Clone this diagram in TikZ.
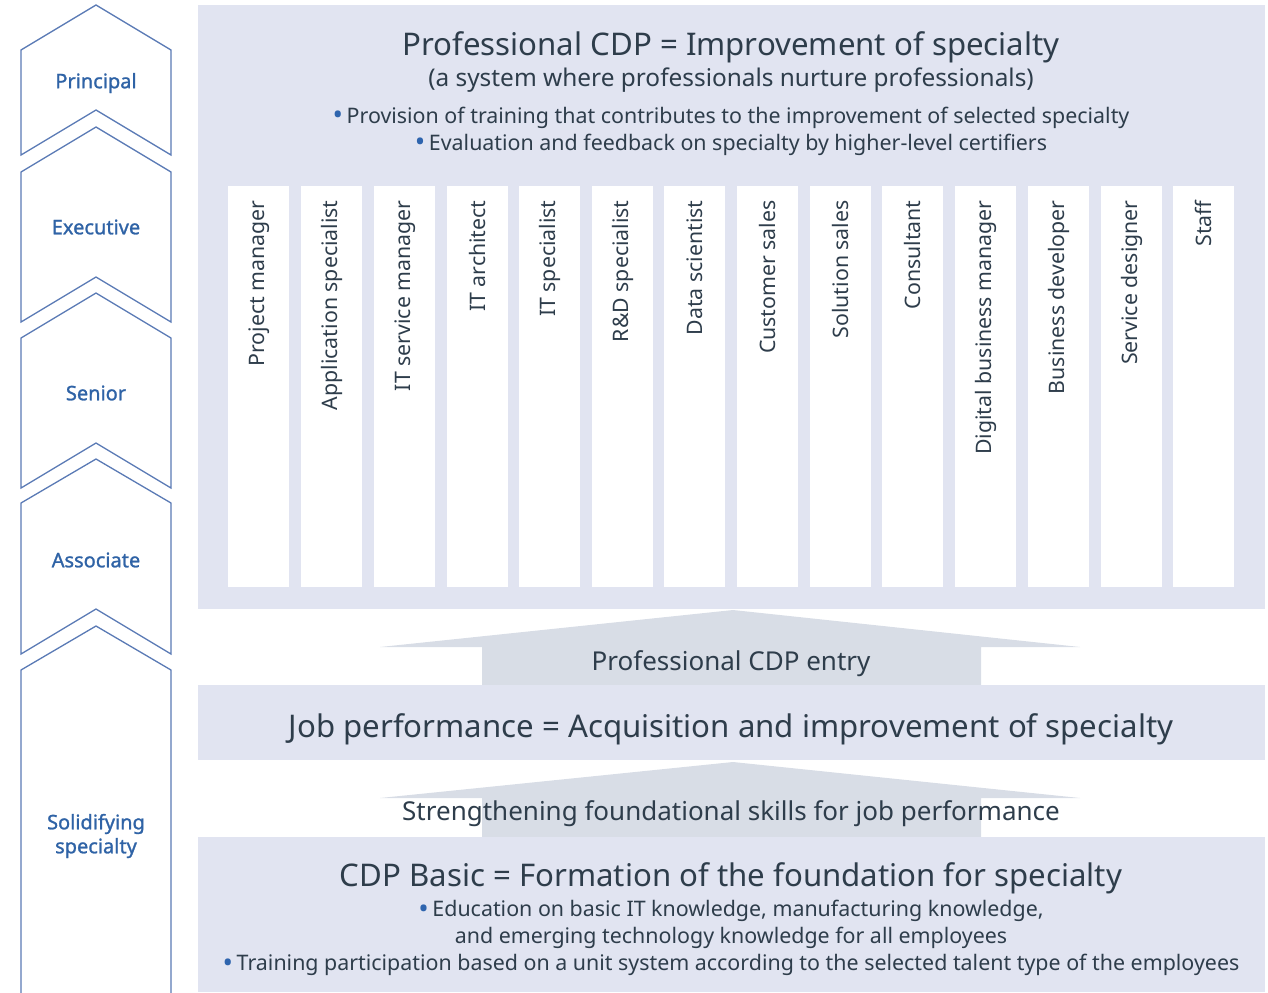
\documentclass[tikz,border=0pt]{standalone}
\usepackage{fontspec}
\setmainfont{Noto Sans}
\newfontfamily\lvlfont{Noto Sans}[FakeBold=1.2]
\usepackage{tikz}
\usetikzlibrary{positioning}

\definecolor{ink}{HTML}{2E3D4B}
\definecolor{panelc}{HTML}{E1E4F1}
\definecolor{arrowc}{HTML}{D8DDE6}
\definecolor{lvlc}{HTML}{2F63A6}
\definecolor{chevc}{HTML}{5A7AB5}
\definecolor{bulc}{HTML}{2E64AE}

\newcommand{\bul}{\textcolor{bulc}{\raisebox{-0.15ex}{\scalebox{1.3}{\textbullet}}}\,}

\begin{document}
\begin{tikzpicture}[
  x=0.5pt, y=-0.5pt,
  every node/.style={text=ink},
  panel/.style={fill=panelc},
  uparrow/.style={fill=arrowc},
  chev/.style={draw=chevc, line width=0.65pt, fill=white, line join=miter},
  lvl/.style={text=lvlc, font=\lvlfont\fontsize{10}{12}\selectfont, align=center},
  colbox/.style={fill=white, minimum width=30.5pt, minimum height=200.5pt, inner sep=0pt, anchor=north west},
  joblbl/.style={rotate=90, anchor=east, inner sep=0pt, font=\fontsize{10.65}{12}\selectfont},
  bigtitle/.style={font=\fontsize{15.6}{18}\selectfont},
  subtitle/.style={font=\fontsize{12.2}{14}\selectfont},
  bullets/.style={font=\fontsize{10.7}{13.5}\selectfont, align=center},
  arrowtxt/.style={font=\fontsize{13}{15}\selectfont}
]
  \useasboundingbox (0,0) rectangle (1268,992);

  % career levels
  \draw[chev] (21,50) -- (96,5) -- (171,50) -- (171,155) -- (96,110) -- (21,155) -- cycle;
  \draw[chev] (21,172) -- (96,127) -- (171,172) -- (171,322) -- (96,277) -- (21,322) -- cycle;
  \draw[chev] (21,338) -- (96,293) -- (171,338) -- (171,488) -- (96,443) -- (21,488) -- cycle;
  \draw[chev] (21,503) -- (96,459) -- (171,503) -- (171,654) -- (96,609) -- (21,654) -- cycle;
  \draw[chev] (21,993) -- (21,670) -- (96,626) -- (171,670) -- (171,993);

  \node[lvl] (principal) at (96,83) {Principal};
  \node[lvl] (executive) at (96,227) {Executive};
  \node[lvl] (senior) at (96,393) {Senior};
  \node[lvl] (associate) at (96,560) {Associate};
  \node[lvl] (solid) at (96,836) {Solidifying\\specialty};

  % professional CDP
  \fill[panel] (198,5) rectangle (1265,609);
  \node[bigtitle] (proftitle) at (731,47) {Professional CDP = Improvement of specialty};
  \node[subtitle] (profsub) at (731,80) {(a system where professionals nurture professionals)};
  \node[bullets] (profbul) at (731,131) {\bul Provision of training that contributes to the improvement of selected specialty\\
    \bul Evaluation and feedback on specialty by higher-level certifiers};

  \node[colbox] (c1) at (228,186) {};
  \node[colbox] (c2) at (301,186) {};
  \node[colbox] (c3) at (374,186) {};
  \node[colbox] (c4) at (447,186) {};
  \node[colbox] (c5) at (519,186) {};
  \node[colbox] (c6) at (592,186) {};
  \node[colbox] (c7) at (664,186) {};
  \node[colbox] (c8) at (737,186) {};
  \node[colbox] (c9) at (810,186) {};
  \node[colbox] (c10) at (882,186) {};
  \node[colbox] (c11) at (955,186) {};
  \node[colbox] (c12) at (1028,186) {};
  \node[colbox] (c13) at (1101,186) {};
  \node[colbox] (c14) at (1173,186) {};

  \node[joblbl] (j1) at ([yshift=-7pt]c1.north) {Project manager};
  \node[joblbl] (j2) at ([yshift=-7pt]c2.north) {Application specialist};
  \node[joblbl] (j3) at ([yshift=-7pt]c3.north) {IT service manager};
  \node[joblbl] (j4) at ([yshift=-7pt]c4.north) {IT architect};
  \node[joblbl] (j5) at ([yshift=-7pt]c5.north) {IT specialist};
  \node[joblbl] (j6) at ([yshift=-7pt]c6.north) {R\&D specialist};
  \node[joblbl] (j7) at ([yshift=-7pt]c7.north) {Data scientist};
  \node[joblbl] (j8) at ([yshift=-7pt]c8.north) {Customer sales};
  \node[joblbl] (j9) at ([yshift=-7pt]c9.north) {Solution sales};
  \node[joblbl] (j10) at ([yshift=-7pt]c10.north) {Consultant};
  \node[joblbl] (j11) at ([yshift=-7pt]c11.north) {Digital business manager};
  \node[joblbl] (j12) at ([yshift=-7pt]c12.north) {Business developer};
  \node[joblbl] (j13) at ([yshift=-7pt]c13.north) {Service designer};
  \node[joblbl] (j14) at ([yshift=-7pt]c14.north) {Staff};

  % entry arrow
  \fill[uparrow] (380,647) -- (733,610) -- (1080,647) -- (981,647) -- (981,685) -- (482,685) -- (482,647) -- cycle;
  \node[arrowtxt] (entry) at (731,664) {Professional CDP entry};

  % job performance
  \fill[panel] (198,685) rectangle (1265,760);
  \node[bigtitle] (jobperf) at (731,729) {Job performance = Acquisition and improvement of specialty};

  % foundation arrow
  \fill[uparrow] (380,798) -- (733,762) -- (1080,798) -- (981,798) -- (981,837) -- (482,837) -- (482,798) -- cycle;
  \node[arrowtxt] (strength) at (731,814) {Strengthening foundational skills for job performance};

  % CDP basic
  \fill[panel] (198,837) rectangle (1265,992);
  \node[bigtitle] (basictitle) at (731,878) {CDP Basic = Formation of the foundation for specialty};
  \node[bullets] (basicbul) at (731,938) {\bul Education on basic IT knowledge, manufacturing knowledge,\\
    and emerging technology knowledge for all employees\\
    \bul Training participation based on a unit system according to the selected talent type of the employees};
\end{tikzpicture}
\end{document}
